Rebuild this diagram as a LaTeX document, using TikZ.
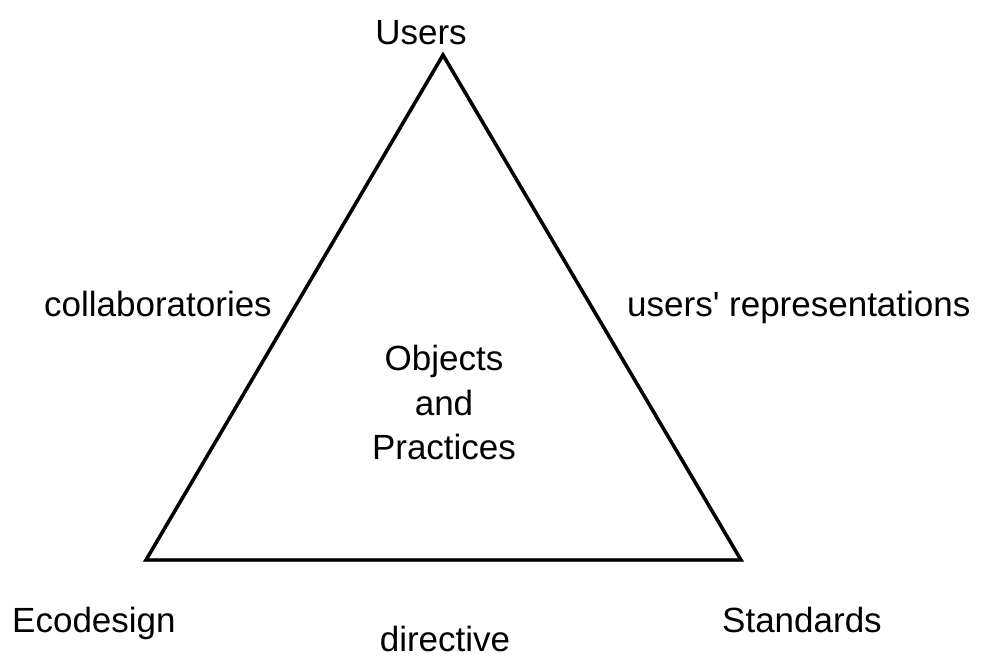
\documentclass[tikz,border=0pt]{standalone}
\usepackage{fontspec}
\setmainfont{Liberation Sans}
\begin{document}
\begin{tikzpicture}[x=1pt,y=-1pt,
  lbl/.style={font=\fontsize{35}{44}\selectfont, inner sep=0pt},
  edge/.style={line width=3.4pt, line join=miter, black},
  shadowedge/.style={line width=3.4pt, line join=miter, black!50}]
  \useasboundingbox (0,0) rectangle (986,657);
  % triangle corners
  \coordinate (top) at (443,55);
  \coordinate (bl) at (146,560);
  \coordinate (br) at (741,560);
  % grey drop shadow of the triangle
  \begin{scope}[shift={(3.5,3.5)}]
    \draw[shadowedge] (top) -- (bl) -- (br) -- cycle;
  \end{scope}
  \draw[edge] (top) -- (bl) -- (br) -- cycle;
  % labels
  \node[lbl, anchor=base] (users) at (421,44) {Users};
  \node[lbl, anchor=base east] (collab) at (272,316) {collaboratories};
  \node[lbl, anchor=base west] (reps) at (627,316) {users\textquotesingle{} representations};
  \node[lbl, anchor=base] (objects) at (444,370) {Objects};
  \node[lbl, anchor=base] (and) at (444,415) {and};
  \node[lbl, anchor=base] (practices) at (444,459) {Practices};
  \node[lbl, anchor=base west] (eco) at (12,632) {Ecodesign};
  \node[lbl, anchor=base] (dir) at (445,651) {directive};
  \node[lbl, anchor=base west] (std) at (722,632) {Standards};
\end{tikzpicture}
\end{document}
